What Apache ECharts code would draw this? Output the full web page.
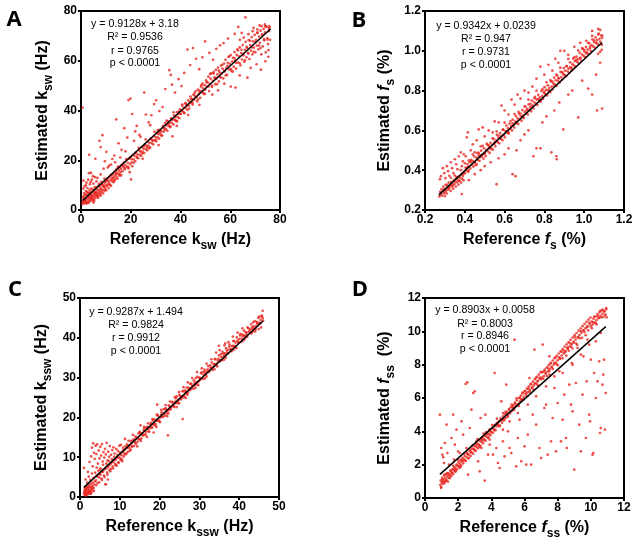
<!DOCTYPE html>
<html><head><meta charset="utf-8">
<script src="https://cdn.jsdelivr.net/npm/echarts@6/dist/echarts.min.js"></script>
<style>html,body{margin:0;padding:0;background:#fff}#c{width:641px;height:548px}</style>
</head><body><div id="c"></div>
<script>
// ---------- Panel A : k_sw (Hz) ----------
const aPts = [
[0.6,2.4],[0.8,4.1],[1.0,3.2],[1.1,5.6],[1.3,2.7],[1.4,4.8],[1.6,3.5],[1.7,6.3],[1.9,2.9],[2.0,4.4],[2.1,5.9],[2.3,3.3],[2.4,7.2],[2.6,4.6],[2.7,3.0],[2.9,5.3],[3.0,6.6],[3.1,3.8],[3.3,4.9],[3.4,8.0],[3.6,5.6],[3.7,3.6],[3.9,6.4],[4.0,4.7],[4.2,7.3],[4.3,5.2],[4.5,3.9],[4.6,6.1],[4.8,8.2],[4.9,5.4],[5.1,4.3],[5.2,6.8],[5.4,5.6],[5.5,9.1],[5.7,6.3],[5.8,4.8],[6.0,7.4],
[1.0,11.8],[1.5,9.5],[2.2,11],[2.6,8.8],[3.2,14.8],[3.6,10.4],[4.0,14.9],[4.4,12.2],[5.0,10.6],[5.6,13.2],[6.2,11.5],[3.3,22.2],[5.8,20.6],[0.6,41.2],[7.4,27.8],[8.6,30.1],[7.9,25.3],[9.6,19.6],[10.2,23.4],[11.3,17.8],[12.6,20.5],[13.4,21.9],[14.2,36.4],[15.1,26.8],[16.3,24.2],[17.4,32.9],[18.6,29.1],[19.1,44.2],[19.9,44.8],[20.6,38.6],[21.8,31.6],[22.4,33.8],[23.5,30.2],[25.4,47.2],[26.1,38.4],[27.2,35.2],[28.3,38.1],[29.4,42.6],[30.2,44.1],[31.5,39.8],[32.8,41.4],[33.9,48.6],[35.5,56.2],[36.1,54.3],[36.6,50.4],[37.8,47.2],[39.2,52.6],[40.4,49.8],[41.5,55.1],[42.8,64.5],[45.0,65.1],[43.9,58.3],[46.3,60.8],[47.5,56.6],[48.8,61.4],[49.9,67.8],[51.6,63.2],[53.1,60.4],[54.4,64.8],[55.9,66.2],[57.3,67.1],[59.1,68.9],[63.2,73.6],[66.1,77.4],[61.8,70.8],[64.6,71.2],[69.4,73.2],[71.8,74.2],[74.2,73.8],[75.6,72.9],
[20.1,12.3],[19.6,15.2],[24.8,20.6],[31.2,26.1],[36.8,29.6],[38.5,33.8],[43.1,38.2],[47.6,42.3],[52.8,46.4],[55.1,48.1],[57.6,50.8],[60.2,49.6],[62.1,49.2],[63.8,54.1],[66.9,53.2],[68.2,57.1],[70.6,58.6],[72.3,56.4],[74.1,59.8],[75.3,61.6],
[6.3,5.6],[6.5,8.3],[6.7,6.9],[6.9,4.9],[7.1,7.8],[7.3,6.2],[7.5,9.4],[7.7,7.1],[7.9,5.8],[8.1,8.6],[8.3,7.4],[8.5,10.2],[8.7,8.1],[8.9,6.7],[9.1,9.3],[9.3,7.8],[9.5,11.0],[9.7,8.9],[9.9,10.1],[10.1,7.9],[10.3,11.8],[10.5,9.6],[10.7,12.6],[10.9,10.4],[11.1,8.8],[11.3,11.4],[11.5,13.3],[11.7,10.1],[11.9,12.2],[12.1,9.7],[12.3,13.9],[12.5,11.6],[12.7,12.8],[12.9,14.6],[13.1,11.2],[13.3,13.4],[13.5,15.3],[13.7,12.3],[13.9,14.1],[14.1,16.2],[14.3,13.2],[14.5,15.1],[14.7,12.6],[14.9,16.8],[15.1,14.4],[15.3,15.9],[15.5,13.8],[15.7,17.4],[15.9,15.2],[16.1,16.6],[16.4,18.3],[16.7,15.6],[17.0,17.4],[17.3,19.2],[17.6,16.4],[17.9,18.1],[18.2,20.2],[18.5,17.3],[18.8,19.0],[19.1,16.7],[19.4,20.6],[19.7,18.5],[20.0,21.3],[20.3,19.2],[20.6,17.6],[20.9,22.1],[21.2,20.3],
[21.5,21.8],[21.8,19.6],[22.1,23.2],[22.4,21.0],[22.7,22.3],[23.0,20.8],[23.3,24.1],[23.6,22.2],[23.9,23.6],[24.2,21.7],[24.5,25.3],[24.8,23.4],[25.1,24.6],[25.4,22.9],[25.7,26.4],[26.0,24.5],[26.3,25.9],[26.6,24.0],[26.9,27.5],[27.2,25.8],[27.5,27.0],[27.8,25.1],[28.1,28.6],[28.4,26.9],[28.7,28.1],[29.0,26.4],[29.3,29.7],[29.6,28.0],[29.9,29.3],[30.2,27.6],[30.5,31.0],[30.8,29.2],[31.1,30.5],[31.4,28.7],[31.7,32.2],[32.0,30.4],[32.3,31.6],[32.6,29.9],[32.9,33.3],[33.2,31.5],[33.5,32.8],[33.8,34.9],[34.1,32.6],[34.4,34.0],[34.7,31.9],[35.0,35.6],[35.3,33.8],[35.6,35.1],[35.9,33.3],[36.2,36.8],[36.5,35.0],[36.8,36.3],[37.1,34.4],[37.4,38.1],[37.7,36.2],[38.0,37.5],[38.3,35.7],[38.6,39.3],[38.9,37.4],[39.2,38.7],[39.5,36.9],[39.8,40.5],[40.1,38.6],[40.4,39.8],[40.7,41.9],[41.0,39.6],[41.3,41.0],[41.6,38.9],[41.9,42.8],[42.2,40.9],[42.5,42.2],[42.8,40.2],[43.1,44.1],[43.4,42.0],[43.7,43.4],[44.0,45.6],[44.3,43.1],[44.6,44.6],[44.9,42.4],[45.2,46.3],[45.5,44.4],[45.8,45.8],[46.1,47.7],[46.4,45.5],[46.7,43.7],[47.0,48.4],[47.3,46.6],[47.6,47.9],[47.9,45.1],[48.2,49.6],[48.5,47.7],[48.8,50.8],[49.1,48.9],[49.4,46.6],[49.7,50.2],[50.0,48.4],
[50.3,52.1],[50.6,49.6],[50.9,51.3],[51.2,53.6],[51.5,47.8],[51.8,50.7],[52.1,52.8],[52.4,54.9],[52.7,49.9],[53.0,51.9],[53.3,55.4],[53.6,53.2],[53.9,50.6],[54.2,56.3],[54.5,52.8],[54.8,54.5],[55.1,57.2],[55.4,51.7],[55.7,55.3],[56.0,53.4],[56.3,58.1],[56.6,54.9],[56.9,56.8],[57.2,52.9],[57.5,58.9],[57.8,55.7],[58.1,60.4],[58.4,57.1],[58.7,54.3],[59.0,59.2],[59.3,61.6],[59.6,56.5],[59.9,58.8],[60.2,62.3],[60.5,55.9],[60.8,59.7],[61.1,61.2],[61.4,57.6],[61.7,63.5],[62.0,60.1],[62.3,56.8],[62.6,62.4],[62.9,64.6],[63.2,59.3],[63.5,61.8],[63.8,65.4],[64.1,58.2],[64.4,63.1],[64.7,60.5],[65.0,66.3],[65.3,62.2],[65.6,59.6],[65.9,64.4],[66.2,67.6],[66.5,61.4],[66.8,65.2],[67.1,63.2],[67.4,68.3],[67.7,60.7],[68.0,66.3],[68.3,64.1],[68.6,69.5],[68.9,62.6],[69.2,67.8],[69.5,65.3],[69.8,70.4],[70.1,63.4],[70.4,68.4],[70.7,66.1],[71.0,71.3],[71.3,64.6],[71.6,69.7],[71.9,67.2],[72.2,72.1],[72.5,62.6],[72.8,70.5],[73.1,65.8],[73.4,72.8],[73.7,68.2],[74.0,71.4],[74.3,63.4],[74.6,73.6],[74.9,69.1],[75.2,66.7],[75.5,71.9],[75.8,73.2],[76.0,68.4],[75.4,64.3],[73.9,74.6],[72.6,73.9],[70.9,72.6],[69.0,71.9],[67.3,70.7],[65.4,69.3],[63.9,68.4]
];
const aPts2 = [
[5.0,3.0],[5.7,6.9],[6.4,5.9],[7.1,9.6],[7.8,6.4],[8.5,10.3],[9.2,9.5],[9.9,8.1],[10.6,11.9],[11.3,10.4],[12.0,14.1],[12.7,12.7],[13.4,11.8],[14.1,14.6],[14.8,17.4],[15.5,14.3],[16.2,13.9],[16.9,17.8],[17.6,16.9],[18.3,20.5],[19.0,17.3],[19.7,21.2],[20.4,20.4],[21.1,19.0],[21.8,22.9],[22.5,21.3],[23.2,25.0],[23.9,23.6],[24.6,22.7],[25.3,25.6],[26.0,28.4],[26.7,25.2],[27.4,24.8],[28.1,28.7],[28.8,27.8],[29.5,31.5],[30.2,28.2],[30.9,32.1],[31.6,31.3],[32.3,29.9],[33.0,33.8],[33.7,32.3],[34.4,35.9],[35.1,34.5],[35.8,33.6],[36.5,36.5],[37.2,39.3],[37.9,36.2],[38.6,35.7],[39.3,39.6],[40.0,38.7],[40.7,42.4],[41.4,39.2],[42.1,43.0],[42.8,42.2],[43.5,40.8],[44.2,44.7],[44.9,43.2],[45.6,46.9],[46.3,45.4],[47.0,44.5],[47.7,47.4],[48.4,50.2],[49.1,47.1],[49.8,46.7],
[50.5,51.4],[51.2,49.6],[51.9,54.7],[52.6,49.5],[53.3,54.9],[54.0,53.2],[54.7,50.6],[55.4,56.0],[56.1,53.3],[56.8,58.4],[57.5,55.9],[58.2,54.1],[58.9,58.0],[59.6,61.7],[60.3,56.6],[61.0,55.6],[61.7,61.0],[62.4,59.1],[63.1,64.2],[63.8,59.0],[64.5,64.4],[65.2,62.7],[65.9,60.2],[66.6,65.6],[67.3,62.9],[68.0,68.0],[68.7,65.4],[69.4,63.6],[70.1,67.5],[70.8,71.2],[71.5,66.1],[72.2,65.1],[72.9,70.5],[73.6,68.7],[74.3,73.8],[75.0,68.5],[75.7,73.9],
[0.7,3.3],[0.9,5.2],[1.2,6.8],[1.5,4.2],[1.8,3.8],[2.0,7.6],[2.2,2.6],[2.5,5.8],[2.8,6.9],[3.1,2.9],[3.5,7.0],[3.8,4.3],[4.1,8.6],[4.4,5.7],[4.7,4.4],[5.0,7.9],[5.3,3.6],[5.6,7.0],[6.1,9.2],[6.4,6.6],[6.8,5.4],[7.2,10.5],[7.7,8.2],[8.2,11.3],[8.8,9.7],[9.4,12.6],[10.0,11.4],[0.9,8.6],[1.9,9.9],[2.9,12.2],[3.9,11.3],[4.8,13.6],[6.6,12.9],[7.9,14.3],[9.1,16.6],[10.8,17.1],[12.1,18.3],[13.7,19.2],[15.8,21.1],[17.9,23.6],[21.3,27.8],[23.9,29.4],[27.8,34.1]
];
const aFit = [[0.7,3.82],[76.2,72.74]];

// ---------- Panel B : f_s (%) ----------
const bPts = [
[0.272,0.268],[0.276,0.291],[0.279,0.279],[0.283,0.305],[0.286,0.272],[0.289,0.296],[0.292,0.318],[0.295,0.284],[0.298,0.306],[0.301,0.291],[0.304,0.327],[0.307,0.299],[0.31,0.283],[0.313,0.315],[0.316,0.302],[0.319,0.338],[0.322,0.309],[0.326,0.322],[0.329,0.296],[0.332,0.341],[0.335,0.318],[0.338,0.329],[0.342,0.307],[0.345,0.352],[0.348,0.331],[0.351,0.343],[0.355,0.318],[0.358,0.362],[0.361,0.339],[0.364,0.351],[0.368,0.328],[0.371,0.369],[0.374,0.347],[0.377,0.361],[0.381,0.338],[0.384,0.378],[0.387,0.356],[0.391,0.371],[0.394,0.349],[0.397,0.389],
[0.275,0.355],[0.28,0.37],[0.29,0.41],[0.297,0.385],[0.303,0.36],[0.31,0.42],[0.316,0.395],[0.322,0.372],[0.33,0.44],[0.336,0.41],[0.343,0.385],[0.35,0.455],[0.357,0.43],[0.363,0.405],[0.37,0.47],[0.38,0.49],[0.385,0.42],[0.39,0.445],[0.395,0.48],[0.405,0.47],[0.415,0.59],[0.41,0.565],[0.42,0.45],[0.43,0.5],[0.44,0.53],[0.45,0.49],[0.46,0.55],[0.47,0.605],[0.48,0.52],[0.49,0.615],[0.5,0.57],[0.52,0.6],[0.54,0.59],[0.55,0.645],[0.57,0.64],[0.585,0.725],[0.6,0.7],[0.62,0.68],[0.635,0.755],[0.65,0.73],[0.665,0.78],[0.68,0.76],[0.7,0.8],[0.72,0.79],[0.74,0.82],[0.76,0.86],[0.78,0.92],[0.8,0.88],[0.82,0.93],[0.84,0.9],[0.855,0.96],[0.87,0.94],[0.88,1.0],[0.9,1.0],[0.92,0.98],[0.95,1.02],[0.98,1.04],[1.01,1.05],[1.04,1.1],[1.07,1.11],
[0.385,0.28],[0.42,0.35],[0.45,0.38],[0.48,0.4],[0.5,0.42],[0.53,0.44],[0.56,0.33],[0.57,0.46],[0.6,0.48],[0.62,0.51],[0.64,0.38],[0.655,0.37],[0.66,0.5],[0.68,0.55],[0.7,0.58],[0.72,0.6],[0.745,0.47],[0.76,0.51],[0.78,0.51],[0.79,0.64],[0.81,0.67],[0.835,0.49],[0.86,0.47],[0.862,0.455],[0.85,0.7],[0.875,0.74],[0.895,0.605],[0.92,0.78],[0.94,0.8],[0.97,0.665],[0.99,0.85],[1.02,0.81],[1.04,0.78],[1.06,0.88],[1.065,0.7],[1.09,0.71],[1.08,0.94],
[0.401,0.384],[0.404,0.412],[0.409,0.398],[0.413,0.431],[0.417,0.392],[0.42,0.418],[0.424,0.441],[0.428,0.409],[0.432,0.452],[0.436,0.427],[0.44,0.446],[0.443,0.418],[0.447,0.469],[0.451,0.44],[0.455,0.425],[0.459,0.463],[0.463,0.487],[0.466,0.451],[0.47,0.475],[0.474,0.447],[0.478,0.466],[0.482,0.498],[0.486,0.469],[0.49,0.48],[0.494,0.458],[0.497,0.51],[0.501,0.486],[0.505,0.471],[0.509,0.502],[0.513,0.529],[0.517,0.494],[0.521,0.516],[0.525,0.487],[0.529,0.538],[0.533,0.51],[0.537,0.528],[0.541,0.503],[0.545,0.557],[0.549,0.533],[0.553,0.52],[0.557,0.549],[0.561,0.578],[0.565,0.541],[0.569,0.563],[0.573,0.535],[0.577,0.586],[0.581,0.559],[0.585,0.572],[0.589,0.551],[0.593,0.605],[0.597,0.578],[0.601,0.565],[0.605,0.596],[0.609,0.624],[0.613,0.59],[0.617,0.611],[0.621,0.584],[0.625,0.634],[0.629,0.608],[0.633,0.622],[0.637,0.6],[0.641,0.654],[0.645,0.627],[0.649,0.614],[0.653,0.644],[0.657,0.672],[0.661,0.637],[0.665,0.66],[0.669,0.632],[0.673,0.683],[0.677,0.656],[0.681,0.67],[0.685,0.648],[0.689,0.702],[0.693,0.676],[0.697,0.662],[0.701,0.693],[0.705,0.72],[0.709,0.686],[0.713,0.708],[0.717,0.68],[0.721,0.731],[0.725,0.704],[0.729,0.718],[0.733,0.696],[0.737,0.75],[0.741,0.724],[0.745,0.71],[0.749,0.741],[0.753,0.769],[0.757,0.734],[0.761,0.756],[0.765,0.728],[0.769,0.779],[0.773,0.752],[0.777,0.766],[0.781,0.744],[0.785,0.798],[0.789,0.772],[0.793,0.758],[0.797,0.789],[0.801,0.817],[0.805,0.782],[0.809,0.804],[0.813,0.776],[0.817,0.827],[0.821,0.8],[0.825,0.814],[0.829,0.792],[0.833,0.846],[0.837,0.82],[0.841,0.806],[0.845,0.837],[0.849,0.865],[0.853,0.83],[0.857,0.852],[0.861,0.824],[0.865,0.875],[0.869,0.848],[0.873,0.862],[0.877,0.84],[0.881,0.894],[0.885,0.868],[0.889,0.854],[0.893,0.885],[0.897,0.913],[0.901,0.878],[0.905,0.9],[0.909,0.872],[0.913,0.923],[0.917,0.896],[0.921,0.91],[0.925,0.888],[0.929,0.942],[0.933,0.916],[0.937,0.902],[0.941,0.933],[0.945,0.961],[0.949,0.926],[0.953,0.948],[0.957,0.92],[0.961,0.971],[0.965,0.944],[0.969,0.958],[0.973,0.936],[0.977,0.99],[0.981,0.964],[0.985,0.95],[0.989,0.981],[0.993,1.009],[0.997,0.974],[1.001,0.996],[1.005,0.968],[1.009,1.019],[1.013,0.992],[1.017,1.006],[1.021,0.984],[1.025,1.038],[1.029,1.012],[1.033,0.998],[1.037,1.029],[1.041,1.057],[1.045,1.022],[1.049,1.044],[1.053,1.016],[1.057,1.067],[1.061,1.04],[1.065,1.054],[1.069,1.032],[1.073,1.086],[1.077,1.06],[1.081,1.046],[1.085,1.077],[1.089,1.03],[1.09,1.065],[1.088,1.005],[1.08,0.995],[1.07,0.985]
];
const bPts2 = [
[0.30,0.270],[0.31,0.327],[0.32,0.315],[0.33,0.362],[0.34,0.323],[0.35,0.373],[0.36,0.365],[0.37,0.347],[0.38,0.400],[0.39,0.381],[0.40,0.435],[0.41,0.413],[0.42,0.399],[0.43,0.442],[0.44,0.479],[0.45,0.437],[0.46,0.430],[0.47,0.487],[0.48,0.475],[0.49,0.522],[0.50,0.483],[0.51,0.533],[0.52,0.525],[0.53,0.507],[0.54,0.560],[0.55,0.541],[0.56,0.595],[0.57,0.573],[0.58,0.559],[0.59,0.602],[0.60,0.639],[0.61,0.597],[0.62,0.590],[0.63,0.647],[0.64,0.635],[0.65,0.682],[0.66,0.643],[0.67,0.693],[0.68,0.685],[0.69,0.667],[0.70,0.720],[0.71,0.701],[0.72,0.755],[0.73,0.733],[0.74,0.719],[0.75,0.762],[0.76,0.799],[0.77,0.757],[0.78,0.750],[0.79,0.807],[0.80,0.795],[0.81,0.842],[0.82,0.803],[0.83,0.853],[0.84,0.845],[0.85,0.827],[0.86,0.880],[0.87,0.861],[0.88,0.915],[0.89,0.893],[0.90,0.879],[0.91,0.922],[0.92,0.959],[0.93,0.917],[0.94,0.910],[0.95,0.967],[0.96,0.955],[0.97,1.002],[0.98,0.963],[0.99,1.013],[1.00,1.005],[1.01,0.987],[1.02,1.040],[1.03,1.021],[1.04,1.075],[1.05,1.053],[1.06,1.039],[1.07,1.082],[1.08,1.105],[1.09,1.077]
];
const bFit = [[0.27,0.276],[1.09,1.042]];

// ---------- Panel C : k_ssw (Hz) ----------
const cPts = [
[1.0,0.8],[1.1,1.6],[1.2,0.5],[1.2,2.3],[1.3,1.2],[1.4,0.9],[1.5,1.9],[1.5,0.4],[1.6,1.4],[1.7,2.6],[1.8,1.0],[1.9,1.7],[2.0,0.7],[2.0,2.2],[2.1,1.3],[2.2,3.0],[2.3,1.8],[2.4,0.9],[2.5,2.5],[2.6,1.5],[2.7,3.3],[2.8,2.0],[2.9,1.1],[3.0,2.8],[3.1,1.7],[3.2,3.6],[3.3,2.4],[1.0,7.3],[1.4,4.4],[1.8,3.6],[2.2,5.1],[2.6,4.3],[3.0,5.9],[3.4,4.8],[3.6,3.1],[3.8,6.1],[4.0,4.2],[4.2,5.4],[4.4,3.5],[4.6,6.6],[4.8,4.9],[5.0,5.8],[5.2,7.2],[5.4,4.6],[5.6,6.3],[5.8,8.1],[6.0,5.4],[6.2,7.0],[6.4,3.2],[6.6,8.4],[6.8,6.1],[7.0,7.5],[7.2,9.0],[7.4,6.8],[7.6,8.2],[7.8,7.1],[8.0,9.5],[8.2,7.7],[8.4,8.8],[8.6,10.1],[8.8,8.3],[9.0,9.4],[9.2,7.9],[9.4,10.6],[9.6,8.7],[9.8,9.9],[10.0,11.2],[10.2,9.3],[10.4,10.5],[10.6,9.0],[10.8,11.6],[11.0,10.2],
[2.4,8.8],[2.8,10.2],[3.0,12.4],[3.3,13.5],[3.5,11.1],[3.7,9.6],[3.9,12.9],[4.1,10.8],[4.3,13.2],[4.5,8.4],[4.7,11.7],[4.9,9.7],[5.1,12.6],[5.3,10.4],[5.5,13.3],[5.7,8.9],[5.9,11.3],[6.1,9.9],[6.3,12.1],[6.5,10.7],[6.7,13.6],[6.9,9.2],[7.1,11.4],[7.3,10.1],[7.5,12.8],[7.8,10.6],[8.1,11.8],[8.4,12.5],[8.7,10.9],[9.1,12.1],[9.5,11.6],[9.9,12.9],[10.3,13.1],[10.8,12.4],[11.3,14.6],[11.8,13.2],[12.2,14.1],[3.2,7.7],[4.2,7.4],[5.0,6.9],[2.0,6.3],[6.5,3.2],[7.0,4.4],
[11.2,11.9],[11.5,10.7],[11.8,12.3],[12.1,11.4],[12.4,13.0],[12.7,11.9],[13.0,12.6],[13.3,14.1],[13.6,12.8],[13.9,13.6],[14.2,15.0],[14.5,13.9],[14.8,14.6],[15.1,16.1],[15.4,14.7],[15.7,15.5],[16.0,16.8],[16.3,15.7],[16.6,16.4],[16.9,17.6],[17.2,16.5],[17.5,17.3],[17.8,18.6],[18.1,17.4],[18.4,18.2],[18.7,19.5],[19.0,18.3],[19.3,19.1],[19.6,20.4],[19.9,19.2],[20.2,20.0],[20.5,21.3],[20.8,20.1],[21.1,20.9],[21.4,22.2],[21.7,21.0],[22.0,21.7],[22.3,23.0],[22.6,21.9],[22.9,22.6],[23.2,23.9],[23.5,22.8],[23.8,23.5],[24.1,24.8],[24.4,23.6],[24.7,24.4],[25.0,25.7],[25.3,24.5],[25.6,25.3],[25.9,26.6],[26.2,25.4],[26.5,26.2],[26.8,27.5],[27.1,26.3],[27.4,27.1],[27.7,28.4],[28.0,27.2],[28.3,28.0],[28.6,29.3],[28.9,28.1],[29.2,28.9],[29.5,30.2],[29.8,29.0],[30.1,29.8],[30.4,31.1],[30.7,29.9],[31.0,30.7],[31.3,32.0],[31.6,30.8],[31.9,31.6],[32.2,32.9],[32.5,31.7],[32.8,32.5],[33.1,33.8],[33.4,32.6],[33.7,33.4],[34.0,34.7],[34.3,33.5],[34.6,34.3],[34.9,35.6],[35.2,34.4],[35.5,35.2],[35.8,36.5],[36.1,35.3],[36.4,36.1],[36.7,37.4],[37.0,36.2],[37.3,37.0],[37.6,38.3],[37.9,37.1],[38.2,37.9],[38.5,39.2],[38.8,38.0],[39.1,38.8],[39.4,40.1],[39.7,38.9],[40.0,39.7],[40.3,41.0],[40.6,39.8],[40.9,40.5],[41.2,41.8],[41.5,40.6],[41.8,41.3],[42.1,42.6],[42.4,41.4],[42.7,42.1],[43.0,43.4],[43.3,42.2],[43.6,42.9],[43.9,44.2],[44.2,43.0],[44.5,43.7],[44.8,45.0],[45.1,43.8],[45.4,44.5],[45.7,45.6],[46.0,44.3],[45.9,46.8],[45.5,42.6],[44.9,42.2],[44.0,41.6],[43.1,41.1],[42.0,40.2],[40.8,42.4],[39.6,41.3],[38.4,40.3],[37.3,38.9],[36.3,38.1],[35.1,36.9],[34.2,36.3],[33.0,34.6],[31.8,33.5],[30.6,32.3],[29.4,31.4],[28.2,29.9],[27.1,28.8],[26.0,27.6],[24.9,26.4],[23.8,25.1],[22.6,24.0],[21.5,23.1],[20.4,21.9],[19.3,20.7],[18.2,19.6],[17.1,18.5],[16.1,17.6],[15.0,16.4],[13.9,15.2],[12.8,14.1],[14.4,12.7],[16.8,15.1],[19.2,17.6],[21.9,20.3],[24.3,22.6],[26.6,24.9],[29.0,27.4],[31.4,29.8],[33.8,32.1],[36.2,34.5],[38.6,37.0],[41.0,39.3],[43.4,41.6],
[25.8,19.6],[22.1,15.5],[26.8,26.0],[36.5,38.6],[34.9,38.0],[19.4,23.2],[15.2,18.0],[18.5,16.2],[13.3,15.6]
];
const cPts2 = [
[10.5,9.5],[10.8,11.4],[11.1,10.9],[11.4,12.7],[11.7,11.0],[12.0,12.8],[12.3,12.4],[12.6,11.7],[12.9,13.5],[13.2,12.8],[13.5,14.5],[13.8,13.8],[14.1,13.3],[14.4,14.7],[14.7,16.0],[15.0,14.5],[15.3,14.1],[15.6,16.0],[15.9,15.5],[16.2,17.3],[16.5,15.7],[16.8,17.5],[17.1,17.1],[17.4,16.4],[17.7,18.2],[18.0,17.5],[18.3,19.2],[18.6,18.4],[18.9,17.9],[19.2,19.3],[19.5,20.6],[19.8,19.1],[20.1,18.8],[20.4,20.7],[20.7,20.2],[21.0,22.0],[21.3,20.4],[21.6,22.2],[21.9,21.7],[22.2,21.0],[22.5,22.8],[22.8,22.1],[23.1,23.8],[23.4,23.1],[23.7,22.6],[24.0,24.0],[24.3,25.3],[24.6,23.8],[24.9,23.5],[25.2,25.3],[25.5,24.8],[25.8,26.6],[26.1,25.0],[26.4,26.8],[26.7,26.4],[27.0,25.7],[27.3,27.5],[27.6,26.8],[27.9,28.5],[28.2,27.8],[28.5,27.2],[28.8,28.6],[29.1,29.9],[29.4,28.4],[29.7,28.1],[30.0,30.0],[30.3,29.5],[30.6,31.3],[30.9,29.7],[31.2,31.5],[31.5,31.1],[31.8,30.3],[32.1,32.1],[32.4,31.4],[32.7,33.1],[33.0,32.4],[33.3,31.9],[33.6,33.3],[33.9,34.6],[34.2,33.1],[34.5,32.8],[34.8,34.7],[35.1,34.1],[35.4,35.9],[35.7,34.3],[36.0,36.1],[36.3,35.7],[36.6,35.0],[36.9,36.8],[37.2,36.1],[37.5,37.8],[37.8,37.1],[38.1,36.6],[38.4,37.9],[38.7,39.2],[39.0,37.7],[39.3,37.4],[39.6,39.3],[39.9,38.8],[40.2,40.6],[40.5,39.0],[40.8,40.8],[41.1,40.4],[41.4,39.7],[41.7,41.4],[42.0,40.7],[42.3,42.4],[42.6,41.7],[42.9,41.2],[43.2,42.6],[43.5,43.9],[43.8,42.4],[44.1,42.1],[44.4,44.0],[44.7,43.5],[45.0,45.3],[45.3,43.6],[45.6,45.4],[45.9,45.0],
[3.4,2.2],[3.7,3.9],[4.1,3.0],[4.4,5.1],[4.8,3.7],[5.1,5.6],[5.5,4.3],[5.8,6.4],[6.2,5.0],[6.5,7.1],[6.9,5.6],[7.2,7.9],[7.6,6.5],[7.9,8.6],[8.3,7.2],[8.6,9.3],[9.0,8.0],[9.3,9.9],[9.7,8.6],[10.0,9.8],[1.3,1.9],[1.7,0.6],[2.1,2.6],[2.5,1.1],[2.9,2.4],[1.1,1.1],[1.6,2.2],[2.3,1.4],[2.7,0.8],[3.5,1.5]
];
const cFit = [[1.0,2.42],[46.0,44.21]];

// ---------- Panel D : f_ss (%) ----------
const dPts = [
[0.92,0.78],[0.95,1.05],[0.98,0.66],[1.0,0.93],[1.03,1.21],[1.06,0.84],[1.09,1.12],[1.12,0.97],[1.15,1.34],[1.18,0.88],[1.21,1.18],[1.24,1.02],[1.27,1.41],[1.3,1.09],[1.34,1.27],[1.38,0.98],[1.42,1.48],[1.46,1.22],[1.5,1.39],[1.54,1.61],[1.58,1.31],[1.62,1.52],[1.66,1.74],[1.7,1.43],[1.74,1.66],[1.78,1.85],[1.82,1.58],[1.86,1.77],[1.9,2.01],[1.94,1.71],[1.98,1.92],[2.02,2.15],[2.06,1.83],[2.1,2.06],[2.14,2.27],[2.18,1.96],[2.22,2.19],[2.26,2.41],[2.3,2.08],[2.35,2.33],[2.4,2.52],[2.45,2.22],[2.5,2.46],[2.55,2.67],[2.6,2.37],[2.65,2.61],[2.7,2.81],[2.75,2.52],[2.8,2.76],[2.85,2.96],[2.9,2.66],[2.95,2.91],[3.0,3.12],[3.05,2.83],[3.1,3.06],[3.15,3.27],[3.2,2.98],[3.25,3.21],[3.3,3.43],[3.35,3.13],[3.4,3.37],[3.45,3.58],[3.5,3.29],[3.55,3.52],[3.6,3.74],[3.65,3.44],[3.7,3.68],[3.75,3.89],[3.8,3.6],[3.85,3.83],[3.9,4.05],[3.95,3.76],[4.0,3.99],[4.05,4.2],[4.1,3.91],[4.15,4.14],[4.2,4.36],[4.25,4.07],[4.3,4.3],[4.35,4.51],
[4.4,4.42],[4.46,4.6],[4.52,4.35],[4.58,4.74],[4.64,4.52],[4.7,4.9],[4.76,4.66],[4.82,5.02],[4.88,4.8],[4.94,5.17],[5.0,4.95],[5.06,5.3],[5.12,5.08],[5.18,5.45],[5.24,5.22],[5.3,5.58],[5.36,5.37],[5.42,5.72],[5.48,5.51],[5.54,5.86],[5.6,5.64],[5.66,6.01],[5.72,5.78],[5.78,6.14],[5.84,5.92],[5.9,6.28],[5.96,6.07],[6.02,6.42],[6.08,6.2],[6.14,6.56],[6.2,6.35],[6.26,6.7],[6.32,6.48],[6.38,6.84],[6.44,6.62],[6.5,6.98],[6.56,6.76],[6.62,7.12],[6.68,6.89],[6.74,7.27],[6.8,7.03],[6.86,7.4],[6.92,7.17],[6.98,7.55],[7.04,7.22],[7.1,7.56],[7.16,7.31],[7.22,7.7],[7.28,7.45],[7.34,7.83],[7.4,7.59],[7.46,7.97],[7.52,7.72],[7.58,8.11],[7.64,7.86],[7.7,8.25],[7.76,8.0],[7.82,8.39],[7.88,8.13],[7.94,8.53],[8.0,8.27],[8.06,8.67],[8.12,8.41],[8.18,8.8],[8.24,8.55],[8.3,8.94],[8.36,8.68],[8.42,9.08],[8.48,8.82],[8.54,9.22],[8.6,8.96],[8.66,9.35],[8.72,9.09],[8.78,9.49],[8.84,9.23],[8.9,9.63],[8.96,9.37],[9.02,9.77],[9.08,9.5],[9.14,9.9],[9.2,9.64],[9.26,10.04],[9.32,9.78],[9.38,10.17],[9.44,9.92],[9.5,10.31],[9.56,10.05],[9.62,10.44],[9.68,10.19],[9.74,10.57],[9.8,10.32],[9.86,10.7],[9.92,10.46],[9.98,10.83],[10.04,10.59],[10.1,10.4],[10.16,10.76],[10.22,10.53],[10.28,10.89],[10.34,10.67],[10.4,11.02],[10.46,10.8],[10.52,11.14],[10.58,10.93],[10.64,11.25],[10.7,11.05],[10.76,10.86],[10.82,11.2],[10.88,10.98],[10.92,11.32],[10.95,10.84],
[0.9,5.0],[0.98,3.0],[1.05,2.6],[1.1,2.45],[1.15,2.1],[1.2,3.3],[1.3,4.4],[1.35,2.7],[1.45,2.0],[1.6,3.6],[1.7,5.0],[1.75,2.3],[1.8,3.2],[1.9,4.1],[2.0,2.8],[2.1,2.7],[2.2,4.6],[2.3,3.8],[2.45,6.84],[2.55,6.94],[2.5,3.0],[2.6,1.4],[2.7,4.2],[2.8,5.3],[2.9,6.3],[3.0,6.4],[3.1,3.4],[3.2,2.2],[3.3,1.6],[3.35,4.8],[3.5,3.7],[3.6,1.04],[3.64,5.0],[3.8,2.6],[3.9,3.2],[4.1,2.6],[4.2,7.5],[4.3,3.0],[4.4,2.1],[4.5,1.8],[4.6,5.8],[4.7,3.4],[4.8,2.5],[4.9,6.8],[5.0,4.0],[5.1,3.0],[5.2,2.7],[5.3,5.5],[5.4,9.5],[5.5,1.9],[5.6,3.6],[5.7,4.7],[5.8,2.2],[6.0,3.1],[6.1,2.0],[6.2,3.8],[6.3,7.2],[6.4,2.0],[6.5,5.0],[6.6,8.9],[6.7,4.4],[6.9,3.0],[7.0,2.4],[7.1,9.2],[7.2,5.4],[7.3,5.6],[7.4,2.6],[7.5,7.4],[7.6,3.4],[7.7,4.8],[7.8,6.6],[7.9,2.8],[8.0,5.7],[8.1,7.6],[8.2,3.4],[8.3,4.7],[8.4,6.2],[8.5,3.6],[8.55,3.0],[8.7,6.8],[8.8,5.6],[8.85,8.1],[8.9,5.2],[9.0,1.7],[9.1,6.9],[9.2,9.0],[9.3,4.4],[9.4,2.8],[9.5,6.2],[9.55,8.5],[9.7,3.6],[9.75,7.0],[9.9,5.0],[9.95,4.6],[10.0,8.3],[10.1,2.6],[10.15,2.7],[10.2,7.5],[10.3,6.0],[10.4,7.0],[10.5,8.2],[10.55,3.9],[10.6,4.2],[10.7,6.8],[10.75,7.4],[10.8,8.3],[10.85,4.1],[10.9,6.3],[9.8,9.5],[8.6,9.0],[7.5,8.5],[6.8,7.0],
[6.2,5.6],[6.7,6.1],[7.3,6.7],[7.8,7.3],[8.3,7.5],[8.9,8.0],[9.4,8.6],[9.9,9.2],[10.3,9.4],[10.6,9.9],[5.6,5.1],[5.1,4.6],[4.7,4.1],[3.9,3.5],[3.4,3.0]
];
const dPts2 = [
[0.97,0.61],[1.04,1.09],[1.11,0.99],[1.19,1.42],[1.26,1.03],[1.33,1.49],[1.41,1.38],[1.48,1.19],[1.55,1.66],[1.63,1.48],[1.7,1.93],[1.77,1.72],[1.85,1.61],[1.92,1.97],[1.99,2.30],[2.07,1.91],[2.14,1.84],[2.21,2.31],[2.29,2.22],[2.36,2.65],[2.43,2.25],[2.51,2.72],[2.58,2.61],[2.65,2.41],[2.73,2.89],[2.8,2.71],[2.87,3.15],[2.95,2.95],[3.02,2.84],[3.09,3.19],[3.17,3.53],[3.24,3.14],[3.31,3.06],[3.39,3.54],[3.46,3.45],[3.53,3.87],[3.61,3.48],[3.68,3.95],[3.75,3.83],[3.83,3.64],[3.9,4.12],[3.97,3.93],[4.05,4.38],[4.12,4.18],[4.19,4.06],[4.27,4.42],[4.34,4.76],[4.41,4.36],[4.49,4.29],[4.56,4.77],[4.63,4.67],[4.71,5.10],[4.78,4.71],[4.85,5.17],[4.93,5.06],[5.0,4.87],[5.07,5.34],[5.15,5.16],[5.22,5.61],[5.29,5.40],[5.37,5.29],[5.44,5.65],[5.51,5.98],[5.59,5.59],[5.66,5.52],[5.73,5.99],[5.81,5.90],[5.88,6.32],[5.95,5.93],[6.03,6.40],[6.1,6.28],[6.17,6.09],[6.25,6.57],[6.32,6.38],[6.39,6.83],[6.47,6.63],[6.54,6.51],[6.61,6.87],[6.69,7.21],[6.76,6.81],[6.83,6.74],[6.91,7.22],[6.98,7.12],[7.05,7.55],[7.13,7.16],[7.2,7.62],[7.27,7.51],[7.35,7.32],[7.42,7.79],[7.49,7.61],[7.57,8.06],[7.64,7.85],[7.71,7.74],[7.79,8.10],[7.86,8.43],[7.93,8.04],[8.01,7.97],[8.08,8.44],[8.15,8.35],[8.23,8.78],[8.3,8.38],[8.37,8.85],[8.45,8.74],[8.52,8.54],[8.59,9.02],[8.67,8.84],[8.74,9.28],[8.81,9.08],[8.89,8.97],[8.96,9.32],[9.03,9.66],[9.11,9.27],[9.18,9.19],[9.25,9.67],[9.33,9.58],[9.4,10.00],[9.47,9.61],[9.55,10.08],[9.62,9.96],[9.69,9.77],[9.77,10.25],[9.84,10.06],[9.91,10.51],[9.99,10.31],[10.06,10.19],[10.13,10.55],[10.21,10.89],[10.28,10.49],[10.35,10.42],[10.43,10.90],[10.5,10.80],[10.57,11.23],[10.65,10.84],[10.72,11.30],[10.79,11.19],[10.87,11.00],[10.93,11.40]
];
const dFit = [[0.9,1.42],[10.9,10.28]];

// ---------- Axes ticks ----------
const axA = {min:0, max:80, interval:20};
const axB = {min:0.2, max:1.2, interval:0.2};
const axC = {min:0, max:50, interval:10};
const axD = {min:0, max:12, interval:2};

const annA = ['y = 0.9128x + 3.18','R\u00b2 = 0.9536','r = 0.9765','p < 0.0001'];
const annB = ['y = 0.9342x + 0.0239','R\u00b2 = 0.947','r = 0.9731','p < 0.0001'];
const annC = ['y = 0.9287x + 1.494','R\u00b2 = 0.9824','r = 0.9912','p < 0.0001'];
const annD = ['y = 0.8903x + 0.0058','R\u00b2 = 0.8003','r = 0.8946','p < 0.0001'];

const FF = '"Liberation Sans", Arial, Helvetica, sans-serif';
const rich = {
  b: {fontSize:16, fontWeight:'bold', fontFamily:FF, color:'#000', lineHeight:20, verticalAlign:'top'},
  i: {fontSize:16, fontWeight:'bold', fontStyle:'italic', fontFamily:FF, color:'#000', lineHeight:20, verticalAlign:'top'},
  s: {fontSize:12, fontWeight:'bold', fontFamily:FF, color:'#000', lineHeight:13, padding:[8,0,0,0], verticalAlign:'top'}
};

const grids = [
  {left:81, top:11, width:199, height:199},
  {left:425, top:11, width:199, height:199},
  {left:80, top:298, width:199, height:199},
  {left:425, top:298, width:199, height:200}
];
const axes = [axA, axB, axC, axD];
const fmt = [v=>String(Math.round(v)), v=>v.toFixed(1), v=>String(Math.round(v)), v=>String(Math.round(v))];
const xNames = ['{b|Reference k}{s|sw}{b| (Hz)}','{b|Reference }{i|f}{s|s}{b| (%)}','{b|Reference k}{s|ssw}{b| (Hz)}','{b|Reference }{i|f}{s|ss}{b| (%)}'];
const yNames = ['{b|Estimated k}{s|sw}{b| (Hz)}','{b|Estimated }{i|f}{s|s}{b| (%)}','{b|Estimated k}{s|ssw}{b| (Hz)}','{b|Estimated }{i|f}{s|ss}{b|  (%)}'];
const yGaps = [26, 28, 26, 28];

function axisCommon(i){
  return {
    type:'value', gridIndex:i, min:axes[i].min, max:axes[i].max, interval:axes[i].interval,
    axisLine:{show:true, onZero:false, lineStyle:{color:'#000', width:2}},
    axisTick:{show:true, inside:false, length:3, lineStyle:{color:'#000', width:2}},
    axisLabel:{show:true, color:'#000', fontSize:12, fontWeight:'bold', fontFamily:FF, margin:4, formatter:fmt[i], showMinLabel:true, showMaxLabel:true},
    splitLine:{show:false}
  };
}
const xAxis = [0,1,2,3].map(i => Object.assign(axisCommon(i), {
  name: xNames[i], nameLocation:'middle', nameGap:22, nameTextStyle:{rich}
}));
const yAxis = [0,1,2,3].map(i => Object.assign(axisCommon(i), {
  name: yNames[i], nameLocation:'middle', nameGap:yGaps[i], nameRotate:90, nameTextStyle:{rich}
}));

const ptsAll = [aPts.concat(aPts2), bPts.concat(bPts2), cPts.concat(cPts2), dPts.concat(dPts2)];
const fitsAll = [aFit, bFit, cFit, dFit];
const series = [];
ptsAll.forEach((p,i)=>{
  series.push({type:'scatter', xAxisIndex:i, yAxisIndex:i, data:p, symbol:'circle', symbolSize:2.7,
    itemStyle:{color:'#e8261f'}, silent:true, z:2});
});
fitsAll.forEach((f,i)=>{
  series.push({type:'line', xAxisIndex:i, yAxisIndex:i, data:f, symbol:'none', silent:true, z:5,
    lineStyle:{color:'#000', width:1.5}});
});

const annCfg = [
  {lines:annA, x:135, y:[24.5,37.5,51,63.5]},
  {lines:annB, x:486, y:[26,39.5,52.5,65.5]},
  {lines:annC, x:136, y:[312,325.5,338.5,351.5]},
  {lines:annD, x:485, y:[310,324,336.5,349.5]}
];
const graphic = [];
annCfg.forEach(a=>{
  a.lines.forEach((t,k)=>{
    graphic.push({type:'text', x:a.x, y:a.y[k], silent:true, z:10,
      style:{text:t, fill:'#000', font:'10.6px '+FF, align:'center', verticalAlign:'middle'}});
  });
});
const letters = [['A',14,20],['B',359,20.5],['C',15,290],['D',360,290]];
letters.forEach(l=>{
  graphic.push({type:'text', x:l[1], y:l[2], silent:true,
    style:{text:l[0], fill:'#000', font:'bold 22px "Open Sans", Arial, sans-serif', align:'center', verticalAlign:'middle'}});
});

const chart = echarts.init(document.getElementById('c'), null, {renderer:'canvas'});
chart.setOption({
  animation:false,
  backgroundColor:'#fff',
  grid: grids.map(g=>Object.assign({show:true, borderColor:'#000', borderWidth:2, backgroundColor:'transparent'}, g)),
  xAxis, yAxis, series, graphic
});
</script>
</body></html>
